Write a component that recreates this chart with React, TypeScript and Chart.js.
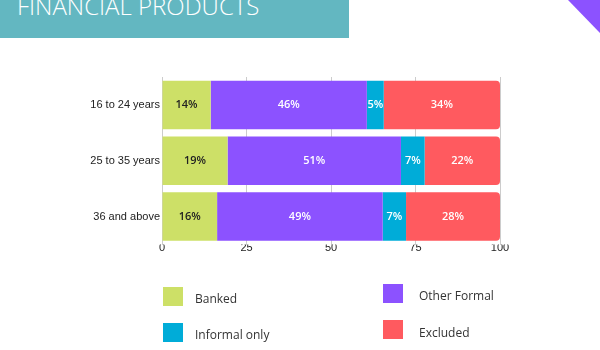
import React, { useEffect, useRef } from "react";
import { Chart, registerables } from "chart.js";

Chart.register(...registerables);

const title = "FINANCIAL PRODUCTS";
const categories = ["16 to 24 years", "25 to 35 years", "36 and above"];
const seriesNames = ["Banked", "Other Formal", "Informal only", "Excluded"];
const banked = [14.4, 19.4, 16.3];
const otherFormal = [46.2, 51.3, 49.0];
const informalOnly = [5.0, 7.0, 6.9];
const excluded = [34.4, 22.3, 27.8];
const seriesColors = ["#cde067", "#8c52ff", "#00acd8", "#ff5a5f"];
const labelColors = ["#222222", "#ffffff", "#ffffff", "#ffffff"];
const xTicks = [0, 25, 50, 75, 100];

const valueLabels = {
  id: "valueLabels",
  afterDatasetsDraw(chart: any) {
    const ctx = chart.ctx;
    ctx.save();
    ctx.font = "600 11px 'Open Sans'";
    ctx.textAlign = "center";
    ctx.textBaseline = "middle";
    chart.data.datasets.forEach((ds: any, di: number) => {
      const meta = chart.getDatasetMeta(di);
      meta.data.forEach((bar: any, i: number) => {
        const v = ds.data[i];
        const cx = (bar.x + bar.base) / 2;
        ctx.fillStyle = labelColors[di];
        ctx.fillText(Math.round(v) + "%", cx, bar.y);
      });
    });
    ctx.restore();
  },
};

export default function App() {
  const ref = useRef<HTMLCanvasElement>(null);
  useEffect(() => {
    const seriesData = [banked, otherFormal, informalOnly, excluded];
    const chart = new Chart(ref.current!, {
      type: "bar",
      data: {
        labels: categories,
        datasets: seriesNames.map((name, i) => ({
          label: name,
          data: seriesData[i],
          backgroundColor: seriesColors[i],
          borderWidth: 0,
          borderSkipped: false,
          borderRadius:
            i === seriesNames.length - 1
              ? { topLeft: 0, bottomLeft: 0, topRight: 4, bottomRight: 4 }
              : 0,
          barPercentage: 0.87,
          categoryPercentage: 1,
        })),
      },
      options: {
        indexAxis: "y",
        animation: false,
        responsive: false,
        maintainAspectRatio: false,
        layout: { padding: { left: 0, right: 100, top: 77, bottom: 85.5 } },
        plugins: { legend: { display: false }, tooltip: { enabled: false } },
        scales: {
          x: {
            stacked: true,
            min: 0,
            max: 100,
            afterBuildTicks(scale: any) {
              scale.ticks = xTicks.map((v) => ({ value: v }));
            },
            afterFit(scale: any) {
              scale.height = 20;
            },
            grid: { color: "#cccccc", drawTicks: false, lineWidth: 1 },
            border: { display: false },
            ticks: {
              padding: -3,
              color: "#222222",
              font: { family: "'Liberation Sans', Arial", size: 11 },
            },
          },
          y: {
            stacked: true,
            afterFit(scale: any) {
              scale.width = 162;
            },
            grid: { display: false, drawTicks: false },
            border: { display: false },
            ticks: {
              padding: 2,
              color: "#222222",
              font: { family: "'Liberation Sans', Arial", size: 11 },
            },
          },
        },
      },
      plugins: [valueLabels],
    });
    return () => chart.destroy();
  }, []);

  const legendPos = [
    { bx: 163, by: 287, tx: 195, ty: 299 },
    { bx: 383, by: 284, tx: 419, ty: 296 },
    { bx: 163, by: 323, tx: 195, ty: 335 },
    { bx: 383, by: 320, tx: 419, ty: 333 },
  ];
  const legendOrder = [0, 1, 2, 3];

  return (
    <div
      style={{
        position: "fixed",
        left: 0,
        top: 0,
        width: 600,
        height: 350,
        background: "#ffffff",
        overflow: "hidden",
      }}
    >
      <div
        style={{
          position: "absolute",
          left: 0,
          top: 0,
          width: 349,
          height: 38,
          background: "#63b7c1",
          overflow: "hidden",
        }}
      >
        <div
          style={{
            position: "absolute",
            left: 17,
            top: -11,
            fontFamily: "'Open Sans'",
            fontWeight: 300,
            fontSize: 24,
            lineHeight: "34px",
            color: "#ffffff",
            whiteSpace: "nowrap",
          }}
        >
          {title}
        </div>
      </div>
      <svg
        style={{ position: "absolute", left: 0, top: 0 }}
        width={600}
        height={350}
      >
        <polygon points="568,0 600,0 600,33" fill="#8c52ff" />
      </svg>
      <canvas
        ref={ref}
        width={600}
        height={350}
        style={{ position: "absolute", left: 0, top: 0, width: 600, height: 350 }}
      />
      {legendOrder.map((i) => (
        <React.Fragment key={i}>
          <div
            style={{
              position: "absolute",
              left: legendPos[i].bx,
              top: legendPos[i].by,
              width: 20,
              height: 19,
              background: seriesColors[i],
            }}
          />
          <div
            style={{
              position: "absolute",
              left: legendPos[i].tx,
              top: legendPos[i].ty - 9,
              height: 18,
              lineHeight: "18px",
              fontFamily: "'Open Sans'",
              fontSize: 12,
              color: "#333333",
              whiteSpace: "nowrap",
            }}
          >
            {seriesNames[i]}
          </div>
        </React.Fragment>
      ))}
    </div>
  );
}
